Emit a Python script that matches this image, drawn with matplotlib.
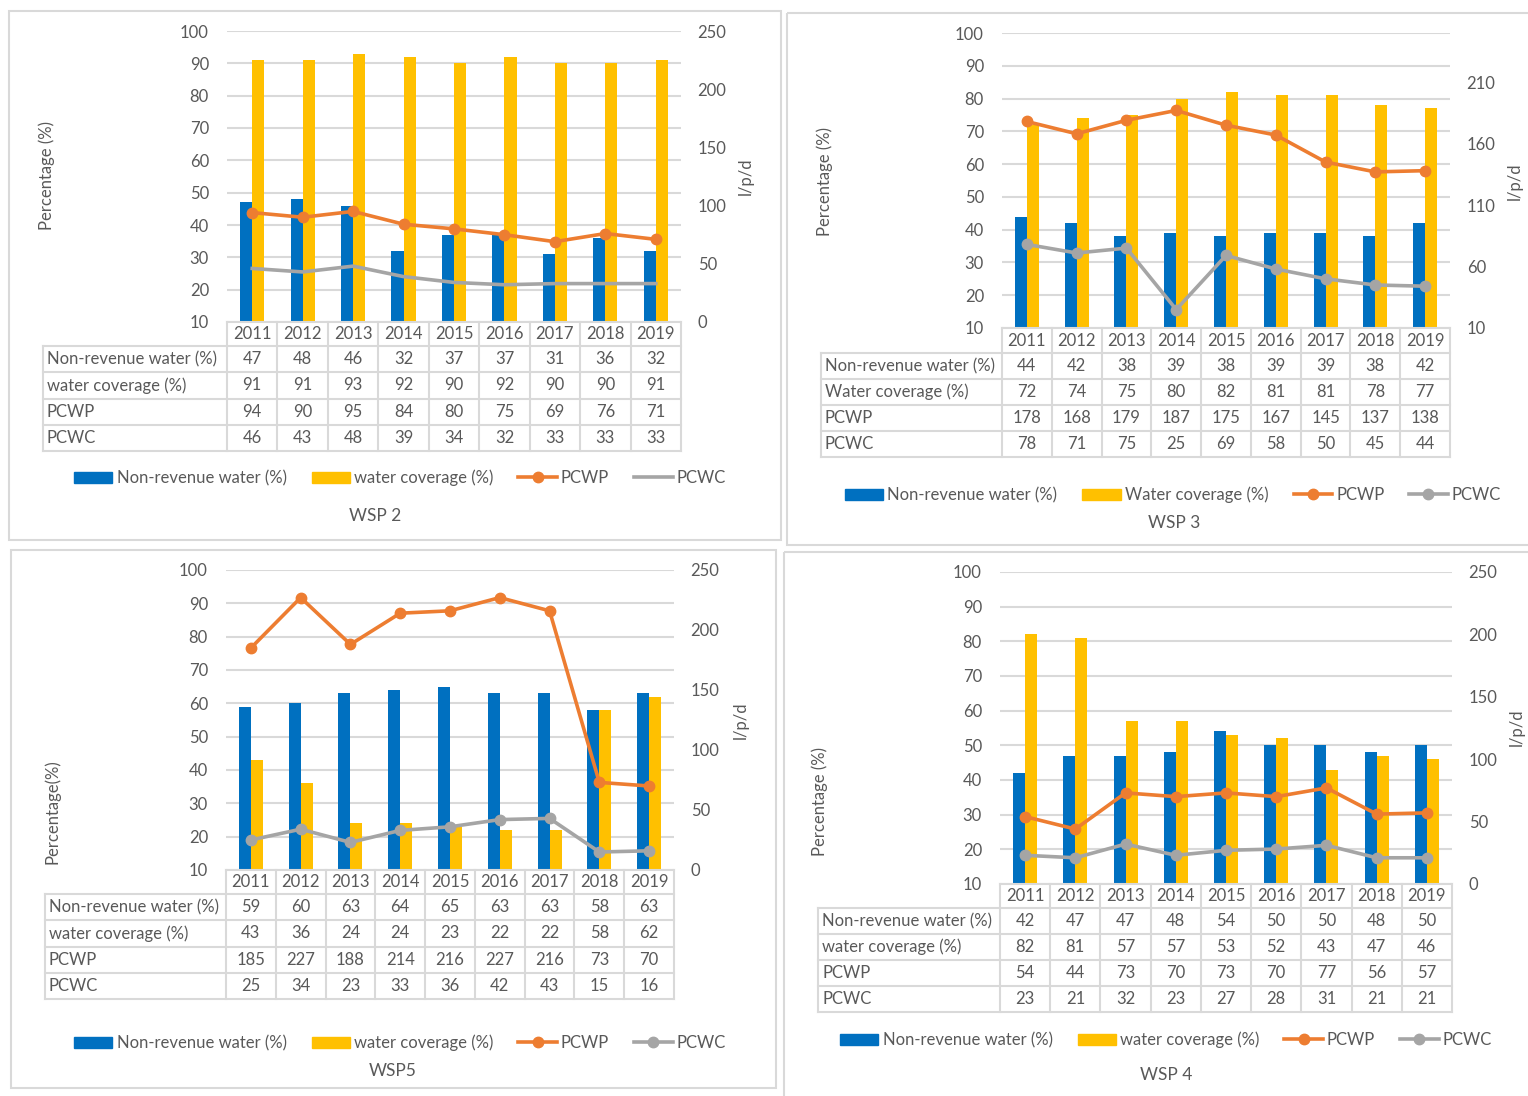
import matplotlib
matplotlib.use("Agg")
import matplotlib.pyplot as plt
import numpy as np
from matplotlib.transforms import Affine2D, blended_transform_factory
from matplotlib.lines import Line2D
from matplotlib.patches import Rectangle, Patch

W, H = 1528, 1096

years = [2011, 2012, 2013, 2014, 2015, 2016, 2017, 2018, 2019]

# WSP 2
wsp2_nrw = [47, 48, 46, 32, 37, 37, 31, 36, 32]
wsp2_wc = [91, 91, 93, 92, 90, 92, 90, 90, 91]
wsp2_pcwp = [94, 90, 95, 84, 80, 75, 69, 76, 71]
wsp2_pcwc = [46, 43, 48, 39, 34, 32, 33, 33, 33]

# WSP 3
wsp3_nrw = [44, 42, 38, 39, 38, 39, 39, 38, 42]
wsp3_wc = [72, 74, 75, 80, 82, 81, 81, 78, 77]
wsp3_pcwp = [178, 168, 179, 187, 175, 167, 145, 137, 138]
wsp3_pcwc = [78, 71, 75, 25, 69, 58, 50, 45, 44]

# WSP5
wsp5_nrw = [59, 60, 63, 64, 65, 63, 63, 58, 63]
wsp5_wc = [43, 36, 24, 24, 23, 22, 22, 58, 62]
wsp5_pcwp = [185, 227, 188, 214, 216, 227, 216, 73, 70]
wsp5_pcwc = [25, 34, 23, 33, 36, 42, 43, 15, 16]

# WSP 4
wsp4_nrw = [42, 47, 47, 48, 54, 50, 50, 48, 50]
wsp4_wc = [82, 81, 57, 57, 53, 52, 43, 47, 46]
wsp4_pcwp = [54, 44, 73, 70, 73, 70, 77, 56, 57]
wsp4_pcwc = [23, 21, 32, 23, 27, 28, 31, 21, 21]

BLUE = "#0070C0"
YELLOW = "#FFC000"
ORANGE = "#ED7D31"
GRAY = "#A5A5A5"
TXT = "#595959"
GRID = "#D9D9D9"
FS = 12

plt.rcParams['font.family'] = ['Lato', 'DejaVu Sans']

fig = plt.figure(figsize=(W / 100, H / 100), dpi=100)
pix = Affine2D().scale(1 / W, -1 / H).translate(0, 1) + fig.transFigure

panels = [
    dict(title="WSP 2", nrw=wsp2_nrw, wc=wsp2_wc, pcwp=wsp2_pcwp, pcwc=wsp2_pcwc,
         wc_label="water coverage (%)", ylab="Percentage (%)", pcwc_marker=False,
         rlim=(0, 250), rticks=range(0, 251, 50),
         border=(9, 11, 781, 540), plot=(227, 31, 681, 322), lab_left=43,
         hh=24, rh=26.25, ylab_xy=(47, 176), rlab_xy=(746, 176),
         leg_xy=(400, 478), title_xy=(375, 516)),
    dict(title="WSP 3", nrw=wsp3_nrw, wc=wsp3_wc, pcwp=wsp3_pcwp, pcwc=wsp3_pcwc,
         wc_label="Water coverage (%)", ylab="Percentage (%)", pcwc_marker=True,
         rlim=(10, 250), rticks=range(10, 211, 50),
         border=(787, 13, 1535, 545), plot=(1002, 33, 1450, 328), lab_left=821,
         hh=25, rh=26, ylab_xy=(825, 181), rlab_xy=(1515, 181),
         leg_xy=(1173, 495), title_xy=(1174, 523)),
    dict(title="WSP5", nrw=wsp5_nrw, wc=wsp5_wc, pcwp=wsp5_pcwp, pcwc=wsp5_pcwc,
         wc_label="water coverage (%)", ylab="Percentage(%)", pcwc_marker=True,
         rlim=(0, 250), rticks=range(0, 251, 50),
         border=(11, 550, 776, 1088), plot=(226, 570, 674, 870), lab_left=45,
         hh=24, rh=26.25, ylab_xy=(52, 812), rlab_xy=(741, 720),
         leg_xy=(400, 1043), title_xy=(393, 1071)),
    dict(title="WSP 4", nrw=wsp4_nrw, wc=wsp4_wc, pcwp=wsp4_pcwp, pcwc=wsp4_pcwc,
         wc_label="water coverage (%)", ylab="Percentage (%)", pcwc_marker=True,
         rlim=(0, 250), rticks=range(0, 251, 50),
         border=(784, 552, 1535, 1100), plot=(1000, 572, 1452, 884), lab_left=818,
         hh=24, rh=26, ylab_xy=(820, 801), rlab_xy=(1517, 727),
         leg_xy=(1166, 1040), title_xy=(1166, 1075)),
]

x = np.arange(len(years))

for p in panels:
    x0, y0, x1, y1 = p['border']
    fig.patches.append(Rectangle((x0, y0), x1 - x0, y1 - y0, transform=pix,
                                 fill=False, ec=GRID, lw=1.5))
    l, t, r, b = p['plot']
    ax = fig.add_axes([l / W, 1 - b / H, (r - l) / W, (b - t) / H])
    ax.bar(x - 0.12, p['nrw'], 0.24, color=BLUE, zorder=2)
    ax.bar(x + 0.12, p['wc'], 0.24, color=YELLOW, zorder=2)
    ax.set_xlim(-0.5, 8.5)
    ax.set_ylim(10, 100)
    ax.set_yticks(range(10, 101, 10))
    ax.grid(axis='y', color=GRID, lw=1.5, zorder=0)
    ax.set_xticks([])
    for s in ax.spines.values():
        s.set_visible(False)
    ax.tick_params(axis='y', length=0, pad=13, labelsize=FS, labelcolor=TXT)

    ax2 = ax.twinx()
    ax2.plot(x, p['pcwp'], color=ORANGE, lw=2.6, marker='o', ms=7.5, clip_on=False)
    ax2.plot(x, p['pcwc'], color=GRAY, lw=2.6, marker='o' if p['pcwc_marker'] else None,
             ms=7.5, clip_on=False)
    ax2.set_ylim(*p['rlim'])
    ax2.set_yticks(list(p['rticks']))
    for s in ax2.spines.values():
        s.set_visible(False)
    ax2.tick_params(axis='y', length=0, pad=12, labelsize=FS, labelcolor=TXT)

    # data table
    hh, rh, ll = p['hh'], p['rh'], p['lab_left']
    bt = b + hh + 4 * rh
    cw = (r - l) / 9
    kw = dict(transform=pix, color=GRID, lw=1.5)
    fig.add_artist(Line2D([l, r], [b, b], **kw))
    for k in range(5):
        yy = b + hh + k * rh
        fig.add_artist(Line2D([ll, r], [yy, yy], **kw))
    for j in range(10):
        xx = l + j * cw
        fig.add_artist(Line2D([xx, xx], [b, bt], **kw))
    fig.add_artist(Line2D([ll, ll], [b + hh, bt], **kw))

    tr = blended_transform_factory(ax.transData, pix)
    for i, yr in enumerate(years):
        ax.text(i, b + hh / 2, str(yr), transform=tr, ha='center', va='center',
                color=TXT, fontsize=FS, clip_on=False)
    rows = [("Non-revenue water (%)", p['nrw']), (p['wc_label'], p['wc']),
            ("PCWP", p['pcwp']), ("PCWC", p['pcwc'])]
    for k, (name, vals) in enumerate(rows):
        yc = b + hh + (k + 0.5) * rh
        fig.text(0, 0, name, transform=Affine2D().translate(ll + 4, yc) + pix,
                 ha='left', va='center', color=TXT, fontsize=FS)
        for i, v in enumerate(vals):
            ax.text(i, yc, str(v), transform=tr, ha='center', va='center',
                    color=TXT, fontsize=FS, clip_on=False)

    # axis titles
    fig.text(p['ylab_xy'][0] / W, 1 - p['ylab_xy'][1] / H, p['ylab'], rotation=90,
             ha='center', va='center', color=TXT, fontsize=FS)
    fig.text(p['rlab_xy'][0] / W, 1 - p['rlab_xy'][1] / H, "l/p/d", rotation=90,
             ha='center', va='center', color=TXT, fontsize=FS)

    handles = [Patch(color=BLUE), Patch(color=YELLOW),
               Line2D([], [], color=ORANGE, lw=2.6, marker='o', ms=7.5),
               Line2D([], [], color=GRAY, lw=2.6, marker='o' if p['pcwc_marker'] else None, ms=7.5)]
    labels = ["Non-revenue water (%)", p['wc_label'], "PCWP", "PCWC"]
    fig.legend(handles, labels, loc='center',
               bbox_to_anchor=(p['leg_xy'][0] / W, 1 - p['leg_xy'][1] / H),
               ncol=4, frameon=False, handlelength=2.3, handletextpad=0.25,
               columnspacing=1.5, fontsize=FS, labelcolor=TXT)

    fig.text(p['title_xy'][0] / W, 1 - p['title_xy'][1] / H, p['title'],
             ha='center', va='center', color=TXT, fontsize=FS + 0.5)

fig.savefig("out.png", dpi=100)
